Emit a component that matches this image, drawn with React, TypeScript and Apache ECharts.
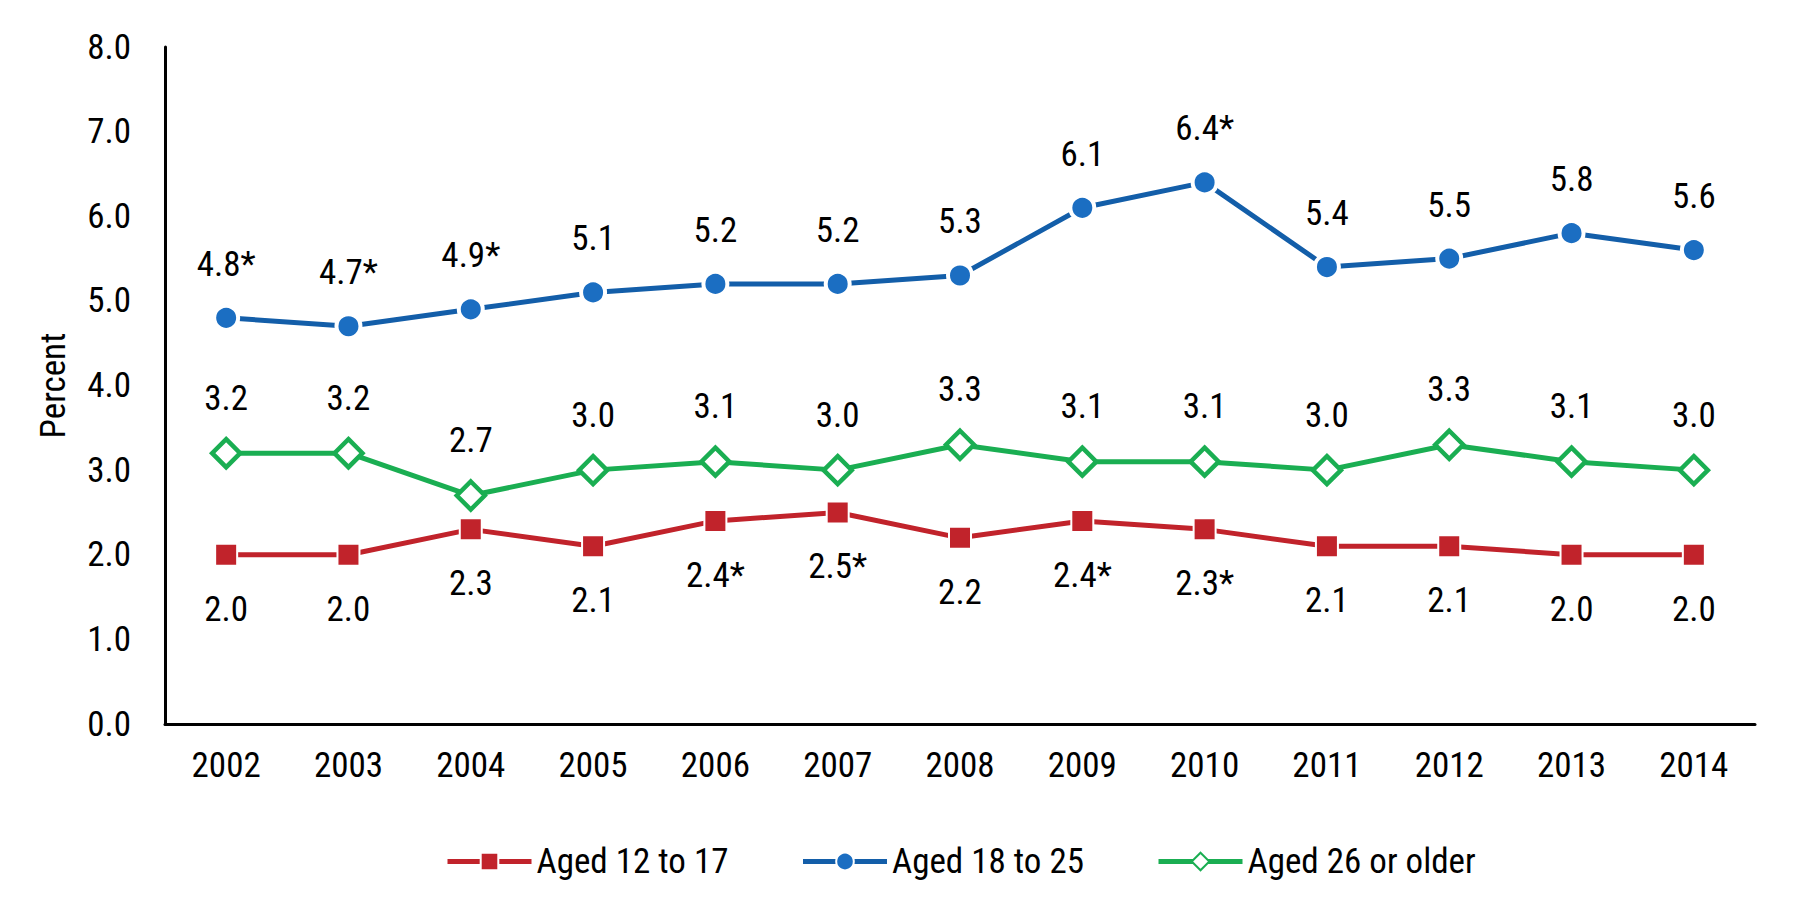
import { useEffect, useRef } from "react";
import * as echarts from "echarts";

const years = ["2002", "2003", "2004", "2005", "2006", "2007", "2008", "2009", "2010", "2011", "2012", "2013", "2014"];

// Aged 12 to 17
const youthValues = [2.0, 2.0, 2.3, 2.1, 2.4, 2.5, 2.2, 2.4, 2.3, 2.1, 2.1, 2.0, 2.0];
const youthFlags = [false, false, false, false, true, true, false, true, true, false, false, false, false];

// Aged 18 to 25
const youngAdultValues = [4.8, 4.7, 4.9, 5.1, 5.2, 5.2, 5.3, 6.1, 6.4, 5.4, 5.5, 5.8, 5.6];
const youngAdultFlags = [true, true, true, false, false, false, false, false, true, false, false, false, false];

// Aged 26 or older
const adultValues = [3.2, 3.2, 2.7, 3.0, 3.1, 3.0, 3.3, 3.1, 3.1, 3.0, 3.3, 3.1, 3.0];
const adultFlags = [false, false, false, false, false, false, false, false, false, false, false, false, false];

const seriesNames = ["Aged 12 to 17", "Aged 18 to 25", "Aged 26 or older"];

const FONT = "'Liberation Sans Narrow', 'Arial Narrow', 'Roboto Condensed', sans-serif";
const FONT_SIZE = 35;

// attach "*" to values flagged as significantly different
const withFlags = (values: number[], flags: boolean[]) =>
  values.map((v, i) => ({ value: v, flag: flags[i] }));

const App = () => {
  const containerRef = useRef<HTMLDivElement>(null);

  useEffect(() => {
    if (!containerRef.current) return;
    const chart = echarts.init(containerRef.current, undefined, { renderer: "svg" });

    const labelFormatter = (p: any) =>
      p.value.toFixed(1) + (p.data && p.data.flag ? "*" : "");

    const labelStyle = {
      show: true,
      color: "#000",
      fontFamily: FONT,
      fontSize: FONT_SIZE,
      formatter: labelFormatter,
    };

    chart.setOption({
      animation: false,
      backgroundColor: "#fff",
      grid: {
        left: 157,
        right: 38,
        top: 39,
        bottom: 168,
        containLabel: false,
      },
      legend: {
        left: 432,
        top: 831,
        itemWidth: 84,
        itemHeight: 22,
        itemGap: 72,
        lineStyle: { width: 5 },
        textStyle: { color: "#000", fontFamily: FONT, fontSize: FONT_SIZE },
        data: seriesNames,
      },
      xAxis: {
        type: "category",
        data: years,
        boundaryGap: true,
        axisLine: { lineStyle: { color: "#000", width: 3 } },
        axisTick: { show: false },
        axisLabel: { color: "#000", fontFamily: FONT, fontSize: FONT_SIZE, margin: 24 },
      },
      yAxis: {
        type: "value",
        min: 0,
        max: 8,
        interval: 1,
        name: "Percent",
        nameLocation: "middle",
        nameRotate: 90,
        nameGap: 94,
        nameTextStyle: { color: "#000", fontFamily: FONT, fontSize: FONT_SIZE },
        axisLine: { show: true, lineStyle: { color: "#000", width: 3 } },
        axisTick: { show: false },
        splitLine: { show: false },
        axisLabel: {
          color: "#000",
          fontFamily: FONT,
          fontSize: FONT_SIZE,
          margin: 34,
          formatter: (v: number) => v.toFixed(1),
        },
      },
      series: [
        {
          name: seriesNames[0],
          type: "line",
          data: withFlags(youthValues, youthFlags),
          symbol: "rect",
          symbolSize: 22,
          lineStyle: { color: "#C1232B", width: 5 },
          itemStyle: { color: "#C1232B", borderColor: "#fff", borderWidth: 2 },
          label: { ...labelStyle, position: "bottom", distance: 25 },
          z: 2,
        },
        {
          name: seriesNames[1],
          type: "line",
          data: withFlags(youngAdultValues, youngAdultFlags),
          symbol: "circle",
          symbolSize: 24,
          lineStyle: { color: "#135EA9", width: 5 },
          itemStyle: { color: "#1B6EC2", borderColor: "#fff", borderWidth: 4 },
          label: { ...labelStyle, position: "top", distance: 22 },
          z: 4,
        },
        {
          name: seriesNames[2],
          type: "line",
          data: withFlags(adultValues, adultFlags),
          symbol: "diamond",
          symbolSize: 28,
          lineStyle: { color: "#1AAE52", width: 5 },
          itemStyle: { color: "#fff", borderColor: "#1AAE52", borderWidth: 4.5 },
          label: { ...labelStyle, position: "top", distance: 21 },
          z: 3,
        },
      ],
    });

    return () => chart.dispose();
  }, []);

  return <div ref={containerRef} style={{ width: 1785, height: 884 }} />;
};

export default App;
